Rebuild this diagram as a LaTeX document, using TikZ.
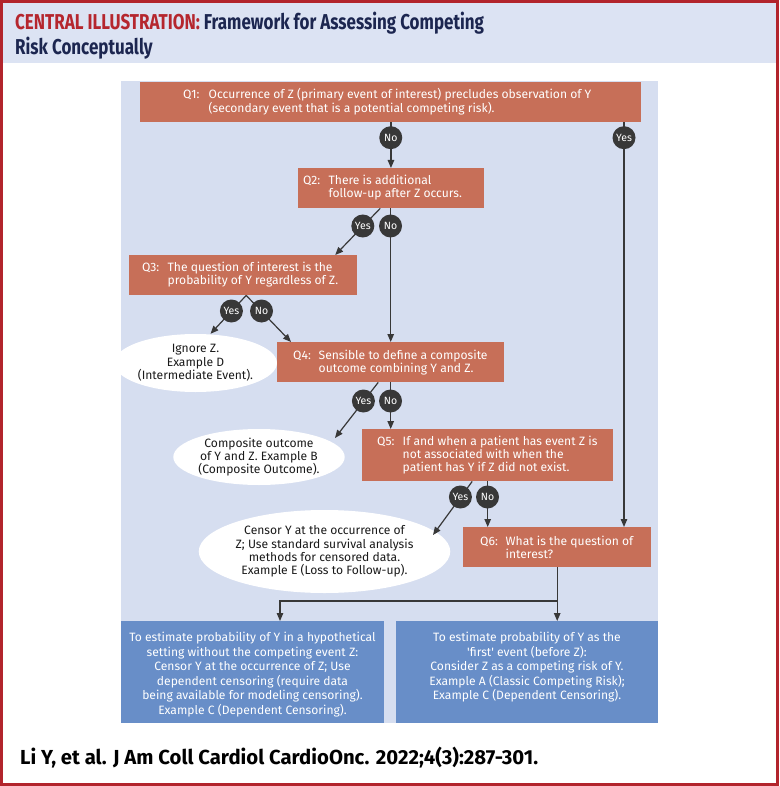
\documentclass[tikz,border=0pt]{standalone}
\usepackage{fontspec}
\setmainfont{Fira Sans}
\newfontfamily\titlefont{Fira Sans}[FakeStretch=0.79]
\usetikzlibrary{arrows.meta,shapes.geometric}
\definecolor{bordred}{HTML}{B2242C}
\definecolor{tred}{HTML}{B5262E}
\definecolor{tnavy}{HTML}{1C2650}
\definecolor{band}{HTML}{DCE3F3}
\definecolor{panel}{HTML}{D6DEF0}
\definecolor{qorange}{HTML}{C76F58}
\definecolor{bblue}{HTML}{688EC8}
\definecolor{cdark}{HTML}{383838}
\definecolor{ctext}{HTML}{1A1A1A}
\newcommand{\qtxt}[2]{\makebox[25.5pt][l]{#1}\begin{tabular}[t]{@{}l@{}}#2\end{tabular}}
\tikzset{
  qbox/.style={fill=qorange, draw=none, inner sep=0pt, anchor=north west},
  qtext/.style={text=white, inner sep=0pt, anchor=base west, font=\fontsize{12.1}{13.4}\selectfont},
  yn/.style={circle, fill=cdark, text=white, minimum size=23pt, inner sep=0pt, font=\fontsize{10.5}{11}\selectfont},
  ell/.style={ellipse, fill=white, inner sep=0pt, align=center, text=ctext, font=\fontsize{12.1}{13.4}\selectfont},
  bbox/.style={fill=bblue, draw=none, inner sep=0pt, anchor=north west},
  btext/.style={text=white, inner sep=0pt, anchor=base, font=\fontsize{12.1}{14.5}\selectfont},
  conn/.style={draw=cdark, line width=1.2pt},
  arr/.style={conn, -{Triangle[length=8pt,width=6.5pt]}}
}
\begin{document}
\begin{tikzpicture}[x=1pt,y=-1pt]
\useasboundingbox (0,0) rectangle (779,786);
% frame and title band
\fill[white] (0,0) rectangle (779,786);
\fill[band] (3,3) rectangle (776,63);
\draw[bordred, line width=3pt] (1.5,1.5) rectangle (777.5,784.5);
\node[anchor=base west, inner sep=0pt] (title) at (15,30) {\titlefont\bfseries\fontsize{21.5}{22.5}\selectfont
  \begin{tabular}[t]{@{}l@{}}\textcolor{tred}{CENTRAL ILLUSTRATION:} \textcolor{tnavy}{Framework for Assessing Competing}\\
  \textcolor{tnavy}{Risk Conceptually}\end{tabular}};
% panel
\fill[panel] (121,81) rectangle (658,723);
% question boxes
\node[qbox, minimum width=501pt, minimum height=40pt] (q1) at (140,82) {};
\node[qbox, minimum width=186.5pt, minimum height=40pt] (q2) at (297.5,168) {};
\node[qbox, minimum width=228pt, minimum height=40pt] (q3) at (129,255) {};
\node[qbox, minimum width=227pt, minimum height=40pt] (q4) at (277,342) {};
\node[qbox, minimum width=251pt, minimum height=52pt] (q5) at (362,429) {};
\node[qbox, minimum width=188pt, minimum height=40pt] (q6) at (463,527) {};
\node[qtext] (q1t) at (183,98.5) {\qtxt{Q1:}{Occurrence of Z (primary event of interest) precludes observation of Y\\(secondary event that is a potential competing risk).}};
\node[qtext] (q2t) at (303,184.5) {\qtxt{Q2:}{There is additional\\follow-up after Z occurs.}};
\node[qtext] (q3t) at (142,271) {\qtxt{Q3:}{The question of interest is the\\probability of Y regardless of Z.}};
\node[qtext] (q4t) at (293,359) {\qtxt{Q4:}{Sensible to define a composite\\outcome combining Y and Z.}};
\node[qtext] (q5t) at (377,445) {\qtxt{Q5:}{If and when a patient has event Z is\\not associated with when the\\patient has Y if Z did not exist.}};
\node[qtext] (q6t) at (480,545.5) {\qtxt{Q6:}{What is the question of\\interest?}};
% outcome ellipses
\node[ell, minimum width=147pt, minimum height=58pt] (ign) at (195.5,363) {Ignore Z.\\Example D\\(Intermediate Event).};
\node[ell, minimum width=170pt, minimum height=56pt] (comp) at (259,457) {Composite outcome\\of Y and Z. Example B\\(Composite Outcome).};
\node[ell, minimum width=225pt, minimum height=83pt] (cens) at (324.5,551.5) {Censor Y at the occurrence of\\Z; Use standard survival analysis\\methods for censored data.\\Example E (Loss to Follow-up).};
% bottom boxes
\node[bbox, minimum width=263pt, minimum height=102pt] (lb) at (121,621) {};
\node[bbox, minimum width=262pt, minimum height=102pt] (rb) at (396,621) {};
\node[btext] (lbt) at (252.5,641.5) {\begin{tabular}[t]{@{}c@{}}To estimate probability of Y in a hypothetical\\setting without the competing event Z:\\Censor Y at the occurrence of Z; Use\\dependent censoring (require data\\being available for modeling censoring).\\Example C (Dependent Censoring).\end{tabular}};
\node[btext] (rbt) at (527,641.5) {\begin{tabular}[t]{@{}c@{}}To estimate probability of Y as the\\\textquotesingle first\textquotesingle{} event (before Z):\\Consider Z as a competing risk of Y.\\Example A (Classic Competing Risk);\\Example C (Dependent Censoring).\end{tabular}};
% coordinates
\coordinate (c1n) at (390.75,137.7);
\coordinate (c1y) at (624,137.7);
\coordinate (c2y) at (362.8,226);
\coordinate (c2n) at (390.5,226);
\coordinate (c3y) at (231.4,311);
\coordinate (c3n) at (261.5,311);
\coordinate (c4y) at (363.4,401);
\coordinate (c4n) at (390.5,401);
\coordinate (c5y) at (460.4,497);
\coordinate (c5n) at (487.5,497);
\coordinate (t4y) at (335,438);
\coordinate (t5y) at (433,535);
\coordinate (jn) at (557,601);
\coordinate (la) at (280,621);
% connectors
\draw[arr] (q1.south -| q2.north) -- (q2.north);
\draw[arr] (q1.south -| c1y) -- (q6.north -| c1y);
\draw[arr] ([xshift=-10.75pt]q2.south) -- ([xshift=92pt]q3.north);
\draw[arr] (q2.south -| q4.north) -- (q4.north);
\draw[arr] ([xshift=3pt]q3.south) -- ([xshift=15pt]ign.north);
\draw[arr] ([xshift=3pt]q3.south) -- ([xshift=14pt]q4.north west);
\draw[arr] ([xshift=-12.5pt]q4.south) -- (t4y);
\draw[arr] (q4.south) -- (q5.north -| q4.south);
\draw[arr] ([xshift=-15.5pt]q5.south) -- (t5y);
\draw[arr] (q5.south) -- (q6.north -| q5.south);
\draw[arr] (q6.south) -- (rb.north -| q6.south);
\draw[arr] (jn) -| (la);
% yes/no badges
\node[yn] (b1n) at (c1n) {No};
\node[yn] (b1y) at (c1y) {Yes};
\node[yn] (b2y) at (c2y) {Yes};
\node[yn] (b2n) at (c2n) {No};
\node[yn] (b3y) at (c3y) {Yes};
\node[yn] (b3n) at (c3n) {No};
\node[yn] (b4y) at (c4y) {Yes};
\node[yn] (b4n) at (c4n) {No};
\node[yn] (b5y) at (c5y) {Yes};
\node[yn] (b5n) at (c5n) {No};
% footer
\node[anchor=base west, inner sep=0pt] (foot) at (20,764) {\bfseries\fontsize{20.3}{24}\selectfont Li Y, et al. J Am Coll Cardiol CardioOnc. 2022;4(3):287-301.};
\end{tikzpicture}
\end{document}
